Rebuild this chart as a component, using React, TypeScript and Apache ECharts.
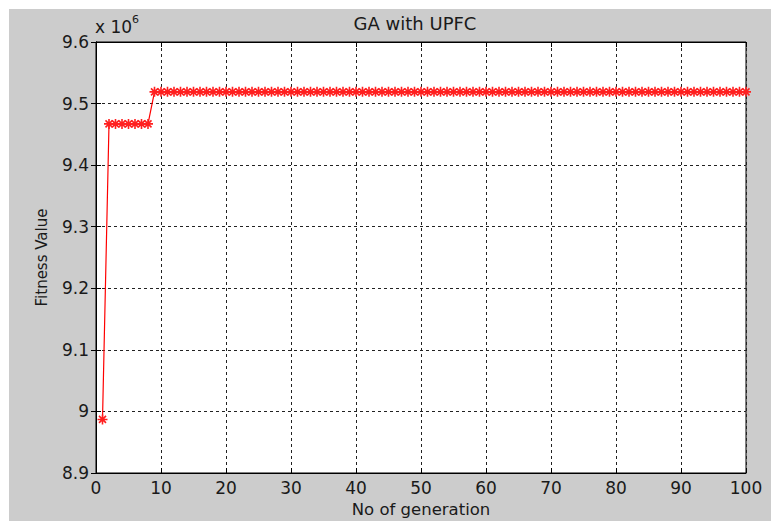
import React, { useEffect, useRef } from "react";
import * as echarts from "echarts";

// Fitness value per generation (generation = index + 1)
const fitnessValues: number[] = [
  8987000,
  9467000, 9467000, 9467000, 9467000, 9467000, 9467000, 9467000,
  9519000, 9519000, 9519000, 9519000, 9519000, 9519000, 9519000, 9519000, 9519000, 9519000,
  9519000, 9519000, 9519000, 9519000, 9519000, 9519000, 9519000, 9519000, 9519000, 9519000,
  9519000, 9519000, 9519000, 9519000, 9519000, 9519000, 9519000, 9519000, 9519000, 9519000,
  9519000, 9519000, 9519000, 9519000, 9519000, 9519000, 9519000, 9519000, 9519000, 9519000,
  9519000, 9519000, 9519000, 9519000, 9519000, 9519000, 9519000, 9519000, 9519000, 9519000,
  9519000, 9519000, 9519000, 9519000, 9519000, 9519000, 9519000, 9519000, 9519000, 9519000,
  9519000, 9519000, 9519000, 9519000, 9519000, 9519000, 9519000, 9519000, 9519000, 9519000,
  9519000, 9519000, 9519000, 9519000, 9519000, 9519000, 9519000, 9519000, 9519000, 9519000,
  9519000, 9519000, 9519000, 9519000, 9519000, 9519000, 9519000, 9519000, 9519000, 9519000,
  9519000, 9519000,
];

const title = "GA with UPFC";
const xName = "No of generation";
const yName = "Fitness Value";
const xMin = 0;
const xMax = 100;
const xStep = 10;
const yMin = 8900000;
const yMax = 9600000;
const yStep = 100000;

const FONT = "DejaVu Sans, Arial, sans-serif";
const TXT = "#1a1a1a";

const asterisk =
  "path://M0,5 L10,5 M5,0 L5,10 M1.5,1.5 L8.5,8.5 M8.5,1.5 L1.5,8.5";

export default function App() {
  const ref = useRef<HTMLDivElement>(null);

  useEffect(() => {
    if (!ref.current) return;
    const chart = echarts.init(ref.current, undefined, { renderer: "svg" });
    const data = fitnessValues.map((v, i) => [i + 1, v]);

    const gridLine = { show: true, lineStyle: { color: "#222", type: [3, 3] as any, width: 1 } };

    chart.setOption({
      animation: false,
      backgroundColor: "#ffffff",
      graphic: [
        {
          type: "rect",
          z: -10,
          silent: true,
          shape: { x: 9, y: 9, width: 762, height: 512 },
          style: { fill: "#cccccc" },
        },
        {
          type: "text",
          x: 415,
          y: 23,
          style: {
            text: title,
            font: `18px ${FONT}`,
            fill: TXT,
            textAlign: "center",
            textVerticalAlign: "middle",
          },
        },
        {
          type: "text",
          x: 95,
          y: 27,
          style: {
            text: "x 10",
            font: `17px ${FONT}`,
            fill: TXT,
            textAlign: "left",
            textVerticalAlign: "middle",
          },
        },
        {
          type: "text",
          x: 132,
          y: 19,
          style: {
            text: "6",
            font: `11px ${FONT}`,
            fill: TXT,
            textAlign: "left",
            textVerticalAlign: "middle",
          },
        },
      ],
      grid: {
        left: 96,
        top: 42,
        width: 650,
        height: 431,
        show: true,
        backgroundColor: "#ffffff",
        borderColor: "#000",
        borderWidth: 1,
      },
      xAxis: [
        {
          type: "value",
          min: xMin,
          max: xMax,
          interval: xStep,
          name: xName,
          nameLocation: "middle",
          nameGap: 27,
          nameTextStyle: { fontFamily: FONT, fontSize: 16.5, color: TXT, verticalAlign: "top" },
          axisLine: { show: true, lineStyle: { color: "#000", width: 1 } },
          axisTick: { show: true, inside: true, length: 5, lineStyle: { color: "#000" } },
          axisLabel: { fontFamily: FONT, fontSize: 17, color: TXT, margin: 6 },
          splitLine: gridLine,
        },
        {
          type: "value",
          position: "top",
          min: xMin,
          max: xMax,
          interval: xStep,
          axisLine: { show: true, lineStyle: { color: "#000", width: 1 } },
          axisTick: { show: true, inside: true, length: 5, lineStyle: { color: "#000" } },
          axisLabel: { show: false },
          splitLine: { show: false },
        },
      ],
      yAxis: [
        {
          type: "value",
          min: yMin,
          max: yMax,
          interval: yStep,
          name: yName,
          nameLocation: "middle",
          nameGap: 47,
          nameTextStyle: { fontFamily: FONT, fontSize: 15, color: TXT },
          axisLine: { show: true, lineStyle: { color: "#000", width: 1 } },
          axisTick: { show: true, inside: true, length: 5, lineStyle: { color: "#000" } },
          axisLabel: {
            fontFamily: FONT,
            fontSize: 17,
            color: TXT,
            margin: 7,
            formatter: (v: number) => String(Math.round(v / 1e5) / 10),
          },
          splitLine: gridLine,
        },
        {
          type: "value",
          position: "right",
          min: yMin,
          max: yMax,
          interval: yStep,
          axisLine: { show: true, lineStyle: { color: "#000", width: 1 } },
          axisTick: { show: true, inside: true, length: 5, lineStyle: { color: "#000" } },
          axisLabel: { show: false },
          splitLine: { show: false },
        },
      ],
      series: [
        {
          type: "line",
          xAxisIndex: 0,
          yAxisIndex: 0,
          data,
          symbol: asterisk,
          symbolSize: 10,
          showAllSymbol: true,
          lineStyle: { color: "#ff0000", width: 1.2 },
          itemStyle: { color: "#ff0000", borderColor: "#ff2020", borderWidth: 1.6 },
        },
      ],
    });

    return () => chart.dispose();
  }, []);

  return (
    <div
      style={{ position: "fixed", left: 0, top: 0, width: 771, height: 528, background: "#fff" }}
    >
      <div ref={ref} style={{ width: 771, height: 528 }} />
    </div>
  );
}
